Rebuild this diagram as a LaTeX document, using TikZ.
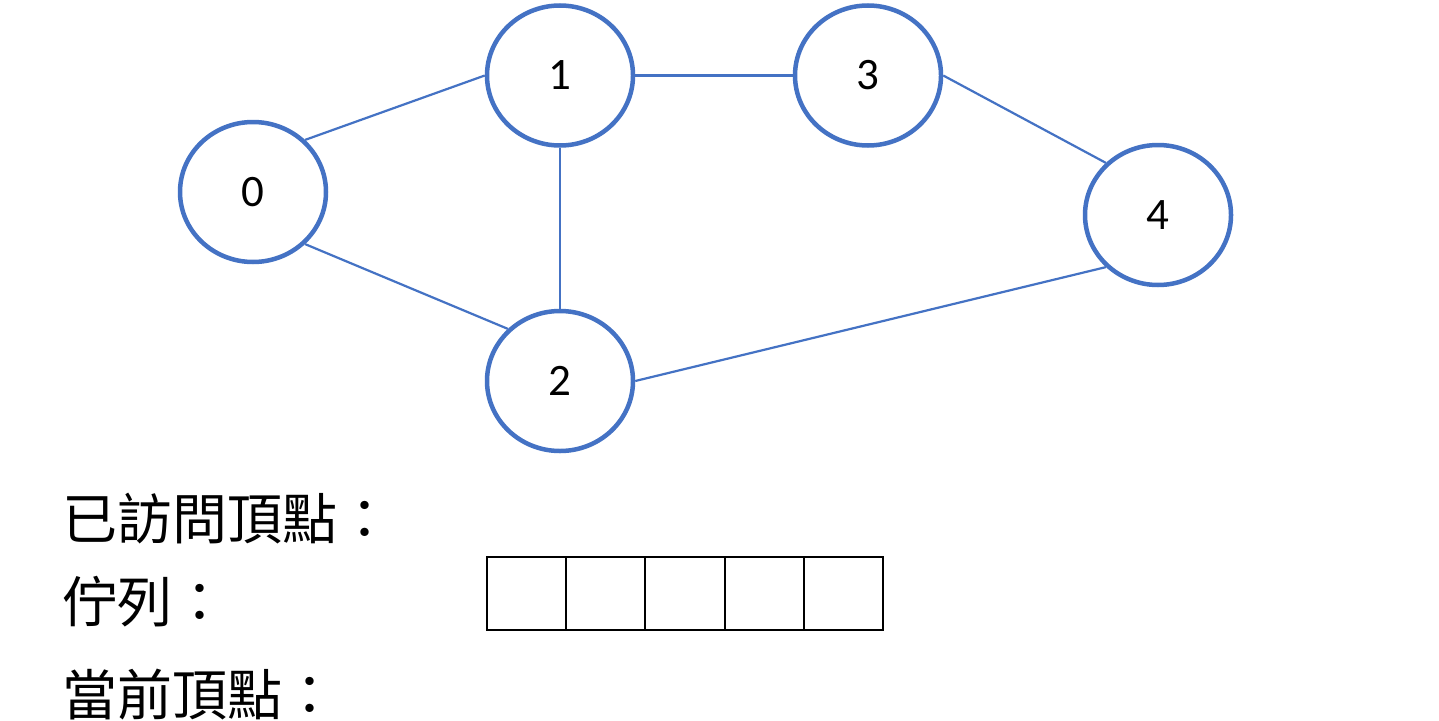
\documentclass[tikz,border=0pt]{standalone}
\usepackage{fontspec}
\setmainfont{Carlito}
\newfontfamily\cjk{Noto Sans CJK TC}
\usetikzlibrary{shapes.geometric}
\definecolor{nodeblue}{HTML}{4472C4}
\tikzset{
  vert/.style={ellipse, draw=nodeblue, line width=4.5pt, fill=white,
    minimum width=146pt, minimum height=140pt, inner sep=0pt,
    font=\fontsize{45}{45}\selectfont},
  edge/.style={draw=nodeblue, line width=2.2pt},
  label/.style={anchor=west, inner sep=0pt, font=\cjk\fontsize{55}{55}\selectfont},
  cell/.style={draw=black, line width=2pt, minimum width=79.2pt, minimum height=73pt,
    inner sep=0pt, outer sep=0pt, anchor=north west}
}
\begin{document}
\begin{tikzpicture}[x=1pt,y=-1pt]
\useasboundingbox (0,0) rectangle (1439,720);
\fill[white] (0,0) rectangle (1439,720);
\node[vert] (n0) at (253,192) {0};
\node[vert] (n1) at (560,75.5) {1};
\node[vert] (n2) at (560,381) {2};
\node[vert] (n3) at (868,75.5) {3};
\node[vert] (n4) at (1158,215) {4};
\draw[edge] (n0.45) -- (n1.west);
\draw[edge] (n0.-45) -- (n2.135);
\draw[edge] (n1.south) -- (n2.north);
\draw[edge] (n1.east) -- (n3.west);
\draw[edge] (n3.east) -- (n4.135);
\draw[edge] (n2.east) -- (n4.-135);
% texts
\node[label] (t1) at (62,519) {已訪問頂點：};
\node[label] (t2) at (62,602) {佇列：};
\node[label] (t3) at (62,695) {當前頂點：};
% queue
\node[cell] (q1) at (487,557) {};
\node[cell] (q2) at (q1.north east) {};
\node[cell] (q3) at (q2.north east) {};
\node[cell] (q4) at (q3.north east) {};
\node[cell] (q5) at (q4.north east) {};
\end{tikzpicture}
\end{document}
